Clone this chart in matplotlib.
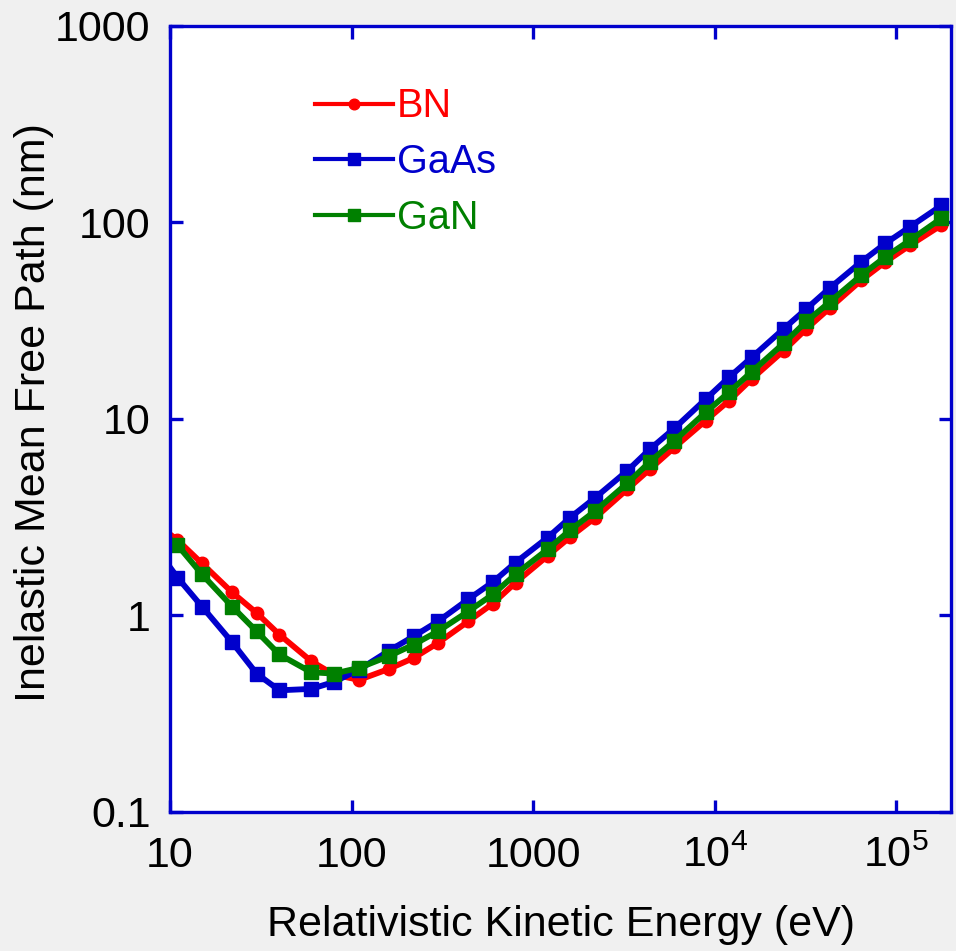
import matplotlib
matplotlib.use("Agg")
import matplotlib.pyplot as plt
from matplotlib.ticker import FixedLocator, FixedFormatter, NullLocator

plt.rcParams['font.family'] = ['Liberation Sans', 'DejaVu Sans']
plt.rcParams['mathtext.fontset'] = 'custom'
plt.rcParams['mathtext.rm'] = 'Liberation Sans'
plt.rcParams['mathtext.it'] = 'Liberation Sans'

# Data (energy in eV, IMFP in nm)
energy = [10, 11, 15, 22, 30, 40, 60, 80, 110, 160, 220, 300, 440, 600, 800, 1200, 1600,
          2200, 3300, 4400, 6000, 8900, 12000, 16000, 24000, 32000, 43000, 64000,
          87000, 119000, 177000]
bn = [2.59, 2.42, 1.84, 1.31, 1.03, 0.80, 0.585, 0.50, 0.47, 0.534, 0.608, 0.726, 0.935,
      1.15, 1.47, 2.01, 2.51, 3.15, 4.39, 5.56, 7.17, 9.8, 12.4, 16.0, 22.3, 28.8,
      36.7, 50.8, 63.0, 76.6, 96.9]
gaas = [1.76, 1.56, 1.11, 0.73, 0.506, 0.416, 0.423, 0.459, 0.53, 0.66, 0.784, 0.935, 1.21,
        1.48, 1.86, 2.49, 3.15, 3.98, 5.45, 7.03, 8.97, 12.6, 16.3, 20.6, 28.8, 36.4,
        46.4, 63.0, 78.2, 95.1, 122]
gan = [2.44, 2.28, 1.62, 1.11, 0.83, 0.633, 0.514, 0.506, 0.541, 0.62, 0.711, 0.832, 1.05,
       1.28, 1.62, 2.17, 2.72, 3.41, 4.71, 6.06, 7.75, 10.8, 13.7, 17.4, 24.3, 31.4,
       39.4, 53.8, 66.8, 81.2, 105]

series_names = ["BN", "GaAs", "GaN"]
x_ticks = [10, 100, 1000, 1e4, 1e5]
x_tick_labels = ["10", "100", "1000", r"$10^4$", r"$10^5$"]
y_ticks = [0.1, 1, 10, 100, 1000]
y_tick_labels = ["0.1", "1", "10", "100", "1000"]

RED = "#ff0000"
BLUE = "#0000cc"
GREEN = "#008000"
BG = "#f0f0f0"

fig = plt.figure(figsize=(9.56, 9.51), dpi=100, facecolor=BG)
ax = fig.add_axes([0.1778, 0.1462, 0.8170, 0.8265])
ax.set_facecolor("white")

me = slice(1, None)
ax.plot(energy, bn, color=RED, lw=4.2, marker='o', ms=9, markevery=me, label=series_names[0])
ax.plot(energy, gaas, color=BLUE, lw=4.2, marker='s', ms=9.5, markevery=me, label=series_names[1])
ax.plot(energy, gan, color=GREEN, lw=4.2, marker='s', ms=9.5, markevery=me, label=series_names[2])

ax.set_xscale('log')
ax.set_yscale('log')
ax.set_xlim(10, 2e5)
ax.set_ylim(0.1, 1000)

ax.xaxis.set_major_locator(FixedLocator(x_ticks))
ax.xaxis.set_major_formatter(FixedFormatter(x_tick_labels))
ax.xaxis.set_minor_locator(NullLocator())
ax.yaxis.set_major_locator(FixedLocator(y_ticks))
ax.yaxis.set_major_formatter(FixedFormatter(y_tick_labels))
ax.yaxis.set_minor_locator(NullLocator())

for s in ax.spines.values():
    s.set_color(BLUE)
    s.set_linewidth(2.4)

ax.tick_params(which='both', direction='in', top=True, right=True, length=9, width=2.4,
               color=BLUE, labelsize=31, labelcolor='black')
ax.tick_params(axis='x', pad=17)
ax.tick_params(axis='y', pad=14)

ax.set_xlabel("Relativistic Kinetic Energy (eV)", fontsize=31)
ax.set_ylabel("Inelastic Mean Free Path (nm)", fontsize=31)
ax.yaxis.set_label_coords(-0.148, 0.508)
ax.xaxis.set_label_coords(0.5, -0.118)

leg = ax.legend(loc='upper left', bbox_to_anchor=(0.166, 0.942), frameon=False, fontsize=28.5,
                handlelength=1.95, handletextpad=0.1, labelspacing=0.45, borderaxespad=0,
                markerscale=0.85)
for text, col in zip(leg.get_texts(), [RED, BLUE, GREEN]):
    text.set_color(col)
for line in leg.get_lines():
    line.set_linewidth(3.0)

fig.savefig("out.png", dpi=100, facecolor=BG)
